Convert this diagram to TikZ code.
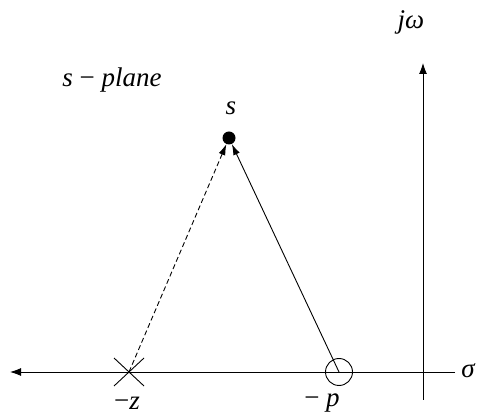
\documentclass[tikz,border=0pt]{standalone}
\usepackage{fontspec}
\setmainfont{Liberation Serif}
\usetikzlibrary{arrows.meta}
\begin{document}
\begin{tikzpicture}[
  x=1pt, y=1pt,
  axis/.style={line width=0.9pt, -{Latex[length=11pt, width=8pt]}},
  vector/.style={line width=0.9pt, -{Latex[length=11pt, width=7pt]}},
  lbl/.style={font=\fontsize{27}{29}\selectfont\itshape, inner sep=0pt}
]
  \useasboundingbox (0,0) rectangle (490,415);

  % ==========================================
  % 1. EJES
  % ==========================================
  \coordinate (o) at (423,43);
  \coordinate (xr) at (455,43);
  \coordinate (xl) at (10,43);
  \coordinate (yb) at (423,15);
  \coordinate (yt) at (423,352);
  \draw[axis] (xr) -- (xl);
  \draw[axis] (yb) -- (yt);
  \node[lbl] (sigma) at (468,44) {σ};
  \node[lbl] (jw) at (411,393) {jω};
  \node[lbl] (plane) at (112,335) {s {\upshape −} plane};

  % ==========================================
  % 2. CERO, POLO Y PUNTO s
  % ==========================================
  \coordinate (z) at (129,43);
  \draw[line width=0.9pt] (z) ++(-15,-14) -- ++(30,28) (z) ++(-15,14) -- ++(30,-28);
  \node[circle, draw, line width=0.9pt, minimum size=27pt, inner sep=0pt] (p) at (339,43) {};
  \coordinate (pc) at (339,43);
  \node[circle, fill=black, minimum size=13pt, inner sep=0pt] (s) at (229,277) {};
  \node[lbl] (slbl) at (231,307) {s};
  \node[lbl] (zlbl) at (127,12) {{\upshape −}z};
  \node[lbl] (plbl) at (322,12) {{\upshape −} p};

  % ==========================================
  % 3. VECTORES
  % ==========================================
  \draw[vector, dash pattern=on 5pt off 3pt] (z) -- (s);
  \draw[vector] (pc) -- (s);
\end{tikzpicture}
\end{document}
